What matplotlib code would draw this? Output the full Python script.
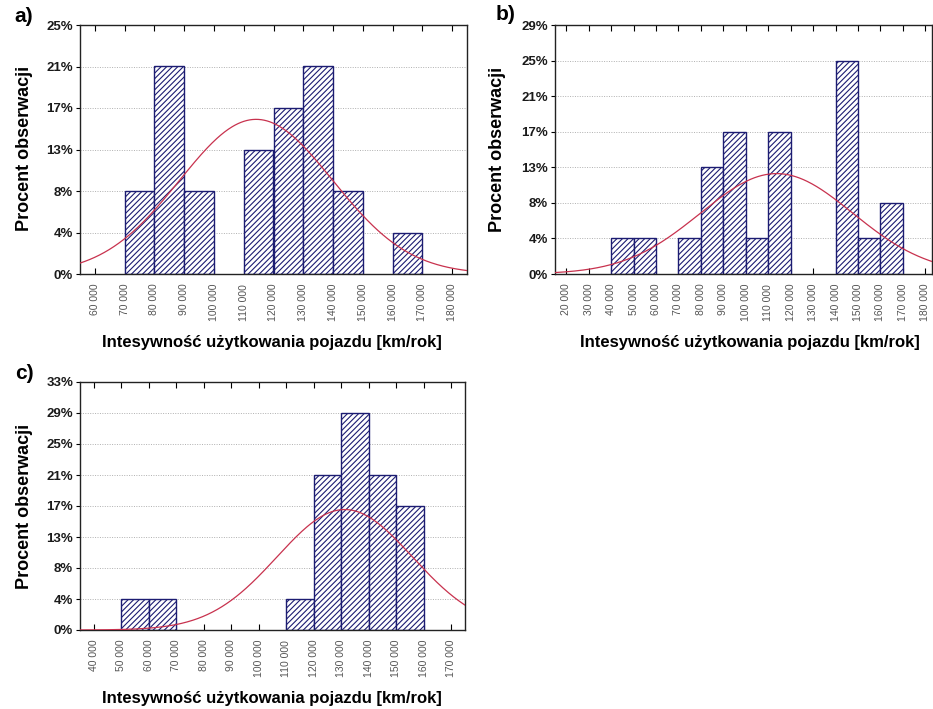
import numpy as np
import matplotlib
matplotlib.use("Agg")
import matplotlib.pyplot as plt

plt.rcParams["font.family"] = ["Liberation Sans", "DejaVu Sans"]
plt.rcParams["hatch.linewidth"] = 0.8

# Number of observations (y axis is in percent of N)
N = 24
BIN_W = 10000

# a) bin left edges and counts
bins_a = [70000, 80000, 90000, 110000, 120000, 130000, 140000, 160000]
counts_a = [2, 5, 2, 3, 4, 5, 2, 1]
xticks_a = list(range(60000, 180001, 10000))
xlim_a = (55000, 185000)
ymax_a = 6

# b)
bins_b = [40000, 50000, 70000, 80000, 90000, 100000, 110000, 140000, 150000, 160000]
counts_b = [1, 1, 1, 3, 4, 1, 4, 6, 1, 2]
xticks_b = list(range(20000, 180001, 10000))
xlim_b = (15000, 183000)
ymax_b = 7

# c)
bins_c = [50000, 60000, 110000, 120000, 130000, 140000, 150000]
counts_c = [1, 1, 1, 5, 7, 5, 4]
xticks_c = list(range(40000, 170001, 10000))
xlim_c = (35000, 175000)
ymax_c = 8

EDGE = "#1c1c72"
CURVE = "#c8324e"

W, H = 933, 709
fig = plt.figure(figsize=(W / 100, H / 100), dpi=100)


def px_axes(left, top, right, bottom):
    return fig.add_axes([left / W, 1 - bottom / H, (right - left) / W, (bottom - top) / H])


def draw(ax, bins, counts, xticks, xlim, ymax):
    bins = np.array(bins, dtype=float)
    counts = np.array(counts, dtype=float)
    pct = counts / N * 100
    ax.bar(bins, pct, width=BIN_W, align="edge", facecolor="white",
           edgecolor=EDGE, hatch="//////", linewidth=1.0, zorder=2)

    # normal curve fitted to the binned data
    mids = bins + BIN_W / 2
    mu = np.sum(mids * counts) / N
    sd = np.sqrt(np.sum(counts * (mids - mu) ** 2) / (N - 1))
    xs = np.linspace(xlim[0], xlim[1], 400)
    dens = np.exp(-0.5 * ((xs - mu) / sd) ** 2) / (sd * np.sqrt(2 * np.pi))
    ax.plot(xs, dens * BIN_W * 100, color=CURVE, lw=0.9, zorder=3)

    yt = [k * 100 / N for k in range(ymax + 1)]
    ax.set_yticks(yt)
    ax.set_yticklabels([f"{int(k * 100 / N + 0.5)}%" for k in range(ymax + 1)],
                       fontsize=9.5, fontweight="bold", color="#1a1a1a")
    ax.set_ylim(0, ymax * 100 / N)
    ax.set_xlim(*xlim)
    ax.set_xticks(xticks)
    ax.set_xticklabels([f"{v:,}".replace(",", " ") for v in xticks],
                       rotation=90, fontsize=7.5, color="#555555")
    ax.grid(axis="y", linestyle=(0, (1, 1.5)), color="#b0b0b0", lw=0.7, zorder=0)
    ax.tick_params(axis="x", which="both", top=True, direction="in", length=4,
                   width=0.8, pad=7)
    ax.tick_params(axis="y", direction="out", length=3, width=0.8, pad=2)
    for s in ax.spines.values():
        s.set_linewidth(1.0)
        s.set_color("#222222")


ax_a = px_axes(80, 25, 467, 274)
draw(ax_a, bins_a, counts_a, xticks_a, xlim_a, ymax_a)
ax_b = px_axes(555, 25, 932, 274)
draw(ax_b, bins_b, counts_b, xticks_b, xlim_b, ymax_b)
ax_c = px_axes(80, 382, 465, 630)
draw(ax_c, bins_c, counts_c, xticks_c, xlim_c, ymax_c)

ylab = "Procent obserwacji"
xlab = "Intesywność użytkowania pojazdu [km/rok]"
ylab_kw = dict(fontsize=13, fontweight="bold", ha="center", va="center", rotation=90)
xlab_kw = dict(fontsize=12, fontweight="bold", ha="center", va="center")

fig.text(25 / W, 1 - 148 / H, ylab, **ylab_kw)
fig.text(497 / W, 1 - 149 / H, ylab, **ylab_kw)
fig.text(25 / W, 1 - 506 / H, ylab, **ylab_kw)

fig.text(272 / W, 1 - 343 / H, xlab, **xlab_kw)
fig.text(750 / W, 1 - 343 / H, xlab, **xlab_kw)
fig.text(272 / W, 1 - 698 / H, xlab, **xlab_kw)

pl_kw = dict(fontsize=15, fontweight="bold", ha="center", va="center")
fig.text(24 / W, 1 - 17 / H, "a)", **pl_kw)
fig.text(506 / W, 1 - 15 / H, "b)", **pl_kw)
fig.text(24 / W, 1 - 374 / H, "c)", **pl_kw)

fig.savefig("out.png", dpi=100, facecolor="white")
